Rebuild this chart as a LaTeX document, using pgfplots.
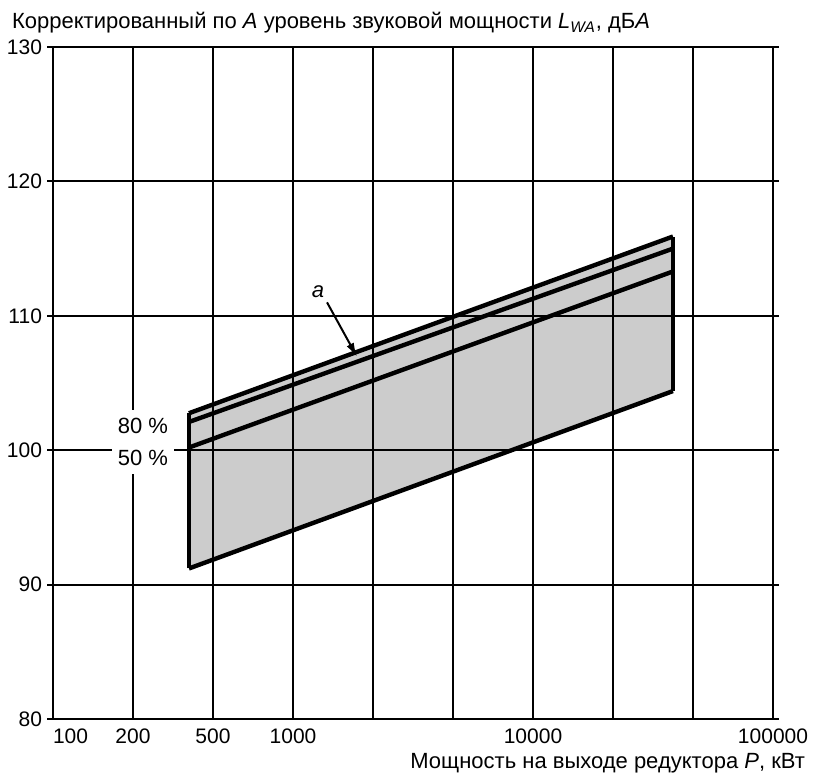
\documentclass[border=0pt]{standalone}
\usepackage{fontspec}
\setmainfont{Liberation Sans}
\usepackage{pgfplots}
\pgfplotsset{compat=1.18}
\usetikzlibrary{arrows.meta}

\begin{document}
\begin{tikzpicture}
\begin{axis}[
  scale only axis, width=360pt, height=336pt,
  xmode=log, xmin=100, xmax=100000, ymin=80, ymax=130,
  xtick={100,215.44,464.16,1000,2154.4,4641.6,10000,21544,46416,100000},
  xticklabels={\makebox[0pt][l]{100},200,500,1000,,,10000,,,100000},
  ytick={80,90,...,130},
  grid=major,
  major grid style={black, line width=0.9pt},
  axis line style={line width=0.9pt},
  tick style={black, line width=0.9pt},
  xtick style={draw=none},
  tick align=outside, major tick length=3pt,
  axis on top,
  /pgf/number format/assume math mode=true,
  ticklabel style={font=\fontsize{10.5}{12}\selectfont},
  xticklabel style={yshift=1.5pt},
  yticklabel style={xshift=1pt},
  clip=false,
]
% grey band between the lower and upper limits
\addplot[draw=none, fill=black!20] coordinates {(368.6,91.2) (38300,104.4) (38300,115.9) (368.6,102.75)} -- cycle;
\addplot[black, line width=2.2pt] coordinates {(368.6,91.2) (38300,104.4)};
\addplot[black, line width=2.2pt] coordinates {(368.6,102.75) (38300,115.9)};
\addplot[black, line width=2.2pt] coordinates {(368.6,102.1) (38300,115.0)};
\addplot[black, line width=2.2pt] coordinates {(368.6,100.2) (38300,113.3)};
\addplot[black, line width=2.2pt] coordinates {(368.6,91.2) (368.6,102.75)};
\addplot[black, line width=2.2pt] coordinates {(38300,104.4) (38300,115.9)};
\draw[-{Latex[length=7pt,width=4pt]}, line width=1pt] (axis cs:1386,111.0) -- (axis cs:1848,106.95);
\node[font=\fontsize{11}{13}\selectfont\itshape] at (axis cs:1271,111.8) {a};
\coordinate (lab) at (axis cs:237,100.6);
\coordinate (bl) at (rel axis cs:0,0);
\coordinate (tr) at (rel axis cs:1,1);
\end{axis}
\node[fill=white, inner xsep=3pt, inner ysep=4pt, align=center, font=\fontsize{11}{16}\selectfont] at (lab) {80 \%\\50 \%};
\node[anchor=base west, font=\fontsize{11}{13}\selectfont] at ([shift={(-24pt,9pt)}]tr -| bl)
  {Корректированный по \textit{A} уровень звуковой мощности \textit{L}\textsubscript{\textit{WA}}, дБ\textit{A}};
\node[anchor=base east, font=\fontsize{11}{13}\selectfont] at ([shift={(19.5pt,-24.5pt)}]bl -| tr)
  {Мощность на выходе редуктора \textit{P}, кВт};
\pgfresetboundingbox
\useasboundingbox ([shift={(-26.5pt,-28.5pt)}]bl) rectangle ([shift={(21.5pt,23.5pt)}]tr);
\end{tikzpicture}
\end{document}
